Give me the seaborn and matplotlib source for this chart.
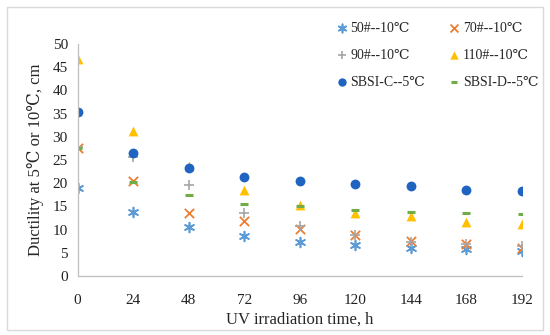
import pandas as pd
import seaborn as sns
import matplotlib.pyplot as plt
from matplotlib.patches import Rectangle

# UV irradiation time, h
hours = [0, 24, 48, 72, 96, 120, 144, 168, 192]

# ductility values (cm)
b50 = [18.9, 13.9, 10.6, 8.6, 7.4, 6.7, 6.0, 5.8, 5.4]
b70 = [27.5, 20.5, 13.6, 11.9, 10.1, 8.8, 7.5, 6.8, 6.1]
b90 = [27.8, 25.6, 19.6, 13.6, 10.8, 8.9, 7.3, 7.0, 6.4]
b110 = [46.8, 31.2, 23.8, 18.5, 15.3, 13.5, 13.0, 11.6, 11.3]
sbsi_c = [35.3, 26.5, 23.2, 21.3, 20.5, 19.8, 19.4, 18.6, 18.4]
sbsi_d = [27.6, 20.3, 17.5, 15.5, 15.0, 14.2, 13.7, 13.5, 13.3]

labels = ["50#--10℃", "70#--10℃", "90#--10℃", "110#--10℃",
          "SBSI-C--5℃", "SBSI-D--5℃"]
series = [b50, b70, b90, b110, sbsi_c, sbsi_d]

sns.set_style("white")
plt.rcParams['font.family'] = ['Liberation Serif', 'DejaVu Serif']

# marker / colour per series, Excel style
styles = [
    dict(marker=(6, 2, 0), color="#5B9BD5", s=50, linewidth=1.2),
    dict(marker="x", color="#ED7D31", s=45, linewidth=1.3),
    dict(marker="+", color="#A5A5A5", s=55, linewidth=1.2),
    dict(marker="^", color="#FFC000", s=50, linewidth=0),
    dict(marker="o", color="#1F64C0", s=50, linewidth=0),
    dict(marker="_", color="#70AD47", s=30, linewidth=2.2),
]

fig = plt.figure(figsize=(5.5, 3.35), dpi=100)
ax = fig.add_axes([0.141, 0.176, 0.808, 0.693])

for lab, vals, st in zip(labels, series, styles):
    df = pd.DataFrame({"hours": hours, "ductility": vals})
    sns.scatterplot(data=df, x="hours", y="ductility", ax=ax, label=lab, **st)

ax.set_xlim(0, 192)
ax.set_ylim(0, 50)
ax.set_xticks(hours)
ax.set_yticks(range(0, 51, 5))
ax.tick_params(axis="both", labelsize=11, colors="#222222", direction="out",
               length=4, width=0.8, color="#BFBFBF")
ax.tick_params(axis="x", pad=9)
ax.tick_params(axis="y", pad=3)
for side in ["top", "right"]:
    ax.spines[side].set_visible(False)
for side in ["left", "bottom"]:
    ax.spines[side].set_color("#BFBFBF")
    ax.spines[side].set_linewidth(0.9)

ax.set_xlabel("UV irradiation time, h", fontsize=12, labelpad=3)
ax.set_ylabel("Ductility at 5℃ or 10℃, cm", fontsize=12, labelpad=6)

# legend filled row by row, like the original
handles, labs = ax.get_legend_handles_labels()
order = [0, 2, 4, 1, 3, 5]
ax.legend([handles[i] for i in order], [labs[i] for i in order],
          loc="upper left", bbox_to_anchor=(0.607, 0.935), bbox_transform=fig.transFigure,
          ncol=2, frameon=False, fontsize=10, handletextpad=0.05, columnspacing=1.5,
          labelspacing=1.0, markerscale=0.85, handlelength=1.15, borderpad=0,
          borderaxespad=0)

# light outer border around the whole chart
fig.patches.append(Rectangle((0.012, 0.015), 0.976, 0.965, transform=fig.transFigure,
                             fill=False, edgecolor="#D9D9D9", linewidth=1.0))

plt.savefig("out.png", dpi=100)
